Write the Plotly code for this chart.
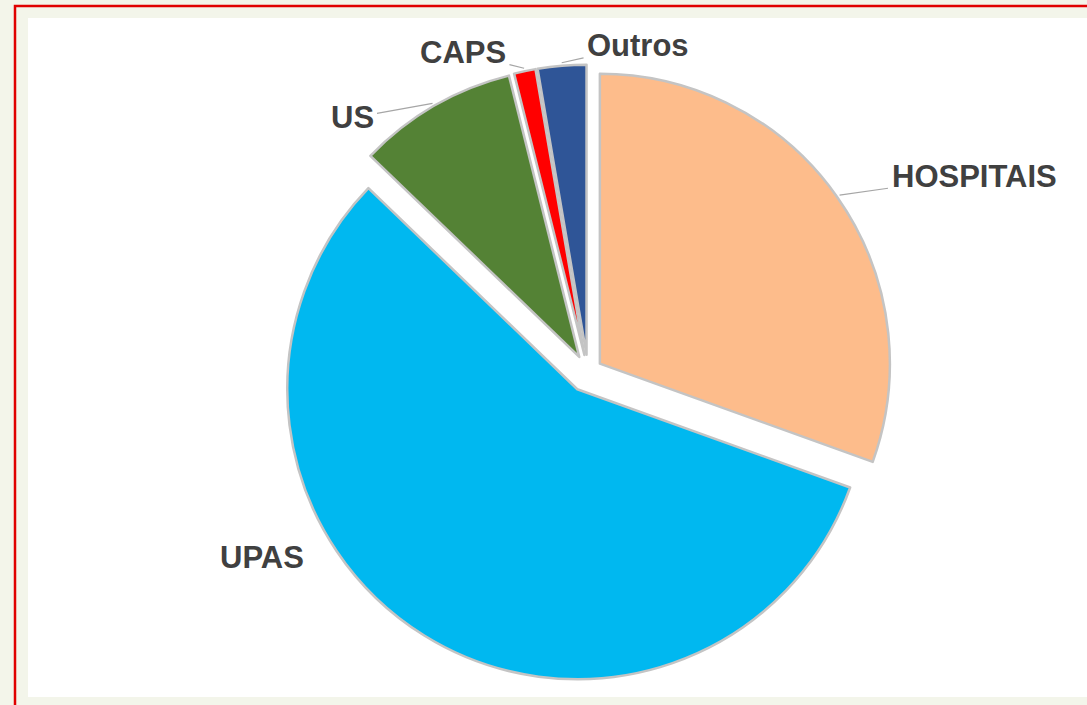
import math
import plotly.graph_objects as go

categories = ["HOSPITAIS", "UPAS", "US", "CAPS", "Outros"]
values = [30.5, 56.7, 8.9, 1.2, 2.7]
colors = ["#FDBC8B", "#00B8F0", "#548235", "#FF0000", "#2F5597"]
pulls = [0.05, 0.07, 0.06, 0.06, 0.06]
# label text centres (pixels) and whether a leader line is drawn
label_pos = [(974, 176), (262, 557), (352, 118), (463, 53), (638, 46)]
leader = [True, False, True, True, True]

W, H = 1087, 705
CX, CY, R = 588, 372, 290
max_pull = max(pulls)
half = R * (1 + max_pull)

FONT = dict(family="Liberation Sans, Arial, sans-serif", size=31, color="#404040", weight="bold")

fig = go.Figure()
fig.add_trace(go.Pie(
    labels=categories,
    values=values,
    sort=False,
    direction="clockwise",
    rotation=0,
    pull=pulls,
    marker=dict(colors=colors, line=dict(color="#C4C4C4", width=2.5)),
    textinfo="none",
    hoverinfo="label+percent",
    showlegend=False,
    domain=dict(x=[(CX - half) / W, (CX + half) / W],
                y=[1 - (CY + half) / H, 1 - (CY - half) / H]),
))

total = sum(values)
cum = 0.0
annotations = []
for lab, v, p, (tx, ty), ld in zip(categories, values, pulls, label_pos, leader):
    mid = (cum + v / 2) / total * 2 * math.pi
    cum += v
    rr = R * (1 + p) + 3
    px = CX + rr * math.sin(mid)
    py = CY - rr * math.cos(mid)
    if ld:
        annotations.append(dict(
            x=px / W, y=1 - py / H, xref="paper", yref="paper",
            ax=tx - px, ay=ty - py, axref="pixel", ayref="pixel",
            xanchor="center", yanchor="middle",
            text=lab, showarrow=True, arrowhead=0, arrowwidth=1.2,
            arrowcolor="#A6A6A6", standoff=0, startstandoff=2, font=FONT,
        ))
    else:
        annotations.append(dict(
            x=tx / W, y=1 - ty / H, xref="paper", yref="paper",
            xanchor="center", yanchor="middle",
            text=lab, showarrow=False, font=FONT,
        ))

fig.update_layout(
    width=W, height=H,
    margin=dict(l=0, r=0, t=0, b=0, pad=0, autoexpand=False),
    paper_bgcolor="#F3F5EA",
    annotations=annotations,
    shapes=[
        dict(type="rect", xref="paper", yref="paper", x0=15 / W, x1=1.05, y0=-0.05, y1=1 - 6 / H,
             line=dict(color="#E00000", width=2.5), fillcolor="rgba(0,0,0,0)", layer="below"),
        dict(type="rect", xref="paper", yref="paper", x0=28 / W, x1=1.0, y0=1 - 697 / H, y1=1 - 18 / H,
             line=dict(width=0), fillcolor="#FFFFFF", layer="below"),
    ],
)
fig.write_html("out.html", config={"displayModeBar": False},
               post_script="document.body.style.margin='0';document.body.style.overflow='hidden';")
